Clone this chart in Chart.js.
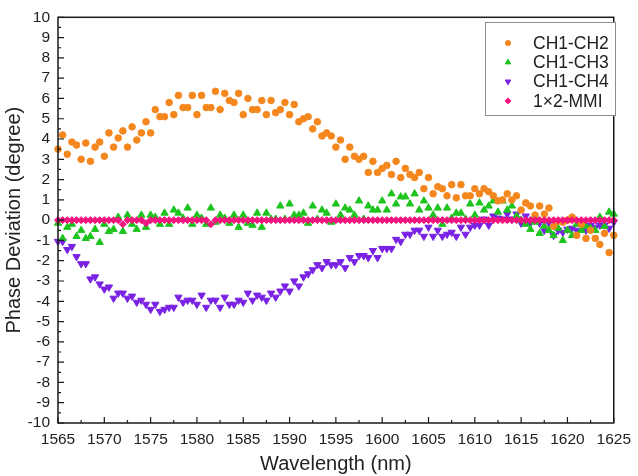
<!DOCTYPE html>
<html>
<head>
<meta charset="utf-8">
<script src="https://cdn.jsdelivr.net/npm/chart.js@4.4.1/dist/chart.umd.min.js"></script>
<style>
    html, body { margin: 0; padding: 0; background: #fff; }
    #wrap { width: 638px; height: 476px; }
</style>
</head>
<body>
<div id="wrap"><canvas id="phaseChart" width="638" height="476"></canvas></div>
<script>
// wavelength samples (nm), 0.5 nm apart
const wavelengths = [
    1565, 1565.5, 1566, 1566.5, 1567, 1567.5, 1568, 1568.5, 1569, 1569.5,
    1570, 1570.5, 1571, 1571.5, 1572, 1572.5, 1573, 1573.5, 1574, 1574.5,
    1575, 1575.5, 1576, 1576.5, 1577, 1577.5, 1578, 1578.5, 1579, 1579.5,
    1580, 1580.5, 1581, 1581.5, 1582, 1582.5, 1583, 1583.5, 1584, 1584.5,
    1585, 1585.5, 1586, 1586.5, 1587, 1587.5, 1588, 1588.5, 1589, 1589.5,
    1590, 1590.5, 1591, 1591.5, 1592, 1592.5, 1593, 1593.5, 1594, 1594.5,
    1595, 1595.5, 1596, 1596.5, 1597, 1597.5, 1598, 1598.5, 1599, 1599.5,
    1600, 1600.5, 1601, 1601.5, 1602, 1602.5, 1603, 1603.5, 1604, 1604.5,
    1605, 1605.5, 1606, 1606.5, 1607, 1607.5, 1608, 1608.5, 1609, 1609.5,
    1610, 1610.5, 1611, 1611.5, 1612, 1612.5, 1613, 1613.5, 1614, 1614.5,
    1615, 1615.5, 1616, 1616.5, 1617, 1617.5, 1618, 1618.5, 1619, 1619.5,
    1620, 1620.5, 1621, 1621.5, 1622, 1622.5, 1623, 1623.5, 1624, 1624.5,
    1625
];

const ch1ch2 = [
    3.5, 4.2, 3.25, 3.85, 3.7, 3.0, 3.8, 2.9, 3.6, 3.85,
    3.15, 4.3, 3.6, 4.05, 4.4, 3.6, 4.6, 3.95, 4.3, 4.85,
    4.3, 5.45, 5.1, 5.1, 5.8, 5.2, 6.15, 5.55, 5.55, 6.15,
    5.2, 6.15, 5.55, 5.55, 6.35, 5.45, 6.25, 5.9, 5.8, 6.25,
    5.2, 6.0, 5.45, 5.45, 5.9, 5.2, 5.9, 5.3, 5.45, 5.8,
    5.2, 5.7, 4.85, 5.0, 5.1, 4.5, 4.85, 4.15, 4.3, 4.15,
    3.6, 3.95, 3.0, 3.6, 3.15, 3.0, 3.15, 2.35, 2.9, 2.35,
    2.55, 2.7, 2.25, 2.9, 2.1, 2.55, 2.25, 2.1, 2.35, 1.55,
    2.1, 1.3, 1.65, 1.55, 1.2, 1.75, 1.1, 1.75, 1.2, 1.2,
    1.55, 1.3, 1.55, 1.4, 1.2, 0.95, 1.0, 1.3, 1.0, 1.2,
    0.5, 0.85, 0.7, 0.25, 0.7, 0.3, 0.6, -0.3, -0.05, -0.1,
    0.0, 0.15, -0.75, -0.2, -0.9, -0.5, -0.9, -1.2, -0.65, -1.6,
    -0.75
];

const ch1ch3 = [
    -0.15, -0.9, -0.35, -0.2, -0.8, -0.5, -0.9, -0.8, -0.45, -1.1,
    -0.2, -0.55, -0.45, 0.15, -0.55, 0.25, -0.2, -0.45, 0.25, -0.35,
    0.25, 0.15, -0.2, 0.35, -0.2, 0.5, 0.35, 0.1, 0.6, -0.2,
    0.25, 0.1, -0.2, 0.6, -0.1, 0.25, 0.1, -0.15, 0.25, -0.35,
    0.25, -0.15, -0.25, 0.35, -0.35, 0.35, 0.05, 0.05, 0.7, 0.05,
    0.8, 0.25, 0.25, 0.35, -0.15, 0.7, 0.05, 0.5, 0.35, -0.1,
    0.8, 0.25, 0.6, 0.5, 0.25, 0.95, 0.05, 0.7, 0.5, 0.5,
    0.95, 0.5, 1.3, 0.8, 1.15, 1.15, 0.8, 1.3, 0.5, 0.95,
    0.6, 0.25, 0.6, -0.2, 0.6, 0.1, 0.35, 0.35, 0.05, 0.8,
    0.25, 0.85, 0.5, 0.7, 0.95, 0.4, 0.95, 0.5, 0.7, 0.2,
    0.0, -0.2, -0.45, -0.1, -0.65, -0.3, -0.5, -0.75, -0.4, -1.0,
    -0.5, -0.75, -0.2, -0.5, -0.3, -0.4, -0.5, 0.15, -0.3, 0.4,
    0.3
];

const ch1ch4 = [
    -1.05, -1.05, -1.45, -1.3, -1.8, -2.15, -2.15, -2.9, -2.8, -3.15,
    -3.4, -3.3, -3.85, -3.6, -3.6, -3.85, -3.75, -4.05, -3.95, -4.15,
    -4.4, -4.15, -4.5, -4.4, -4.3, -4.3, -3.8, -4.05, -3.95, -3.95,
    -4.15, -3.7, -4.3, -3.95, -3.95, -4.3, -3.8, -4.15, -4.15, -3.95,
    -4.05, -3.6, -3.95, -3.7, -3.8, -3.95, -3.6, -3.8, -3.5, -3.25,
    -3.5, -3.0, -3.25, -2.8, -2.65, -2.45, -2.2, -2.35, -2.05, -2.2,
    -2.2, -2.05, -2.35, -1.85, -2.05, -1.75, -1.75, -1.85, -1.5, -1.85,
    -1.4, -1.4, -1.4, -0.95, -1.05, -0.7, -0.7, -0.5, -0.5, -0.8,
    -0.35, -0.8, -0.5, -0.8, -0.7, -0.6, -0.8, -0.35, -0.7, -0.35,
    -0.25, -0.25, 0.05, -0.25, 0.2, 0.1, 0.05, 0.3, 0.05, 0.3,
    -0.15, 0.2, -0.15, 0.05, -0.15, -0.5, -0.15, -0.75, -0.5, -0.6,
    -0.45, -0.4, -0.5, -0.2, -0.5, -0.25, -0.35, -0.25, -0.25, -0.4,
    -0.1
];

const mmi = [
    0, 0, 0, 0, 0, 0, 0, 0, 0, 0,
    0, 0, 0, 0, -0.2, 0, 0, 0, 0, -0.15,
    0, 0, 0, 0, 0, 0, 0, 0, 0, 0,
    0, 0, 0, -0.2, 0, 0, 0, 0, 0, 0,
    0, 0, 0, 0, 0, 0, 0, 0, 0, 0,
    0, 0, 0, 0, 0, 0, 0, 0, 0, 0,
    0, 0, 0, 0, 0, 0, 0, 0, 0, 0,
    0, 0, 0, 0, 0, 0, 0, 0, 0, 0,
    0, 0, 0, 0, 0, 0, 0, 0, 0, 0,
    0, 0, 0, 0, 0, 0, 0, 0, 0, 0,
    0, 0, 0, 0, 0, 0, 0, 0, 0, 0,
    0, 0, 0, 0, 0, 0, 0, 0, 0, 0,
    0
];

const seriesNames = ["CH1-CH2", "CH1-CH3", "CH1-CH4", "1×2-MMI"];
const xTickLabels = [1565, 1570, 1575, 1580, 1585, 1590, 1595, 1600, 1605, 1610, 1615, 1620, 1625];
const yTickLabels = [-10, -9, -8, -7, -6, -5, -4, -3, -2, -1, 0, 1, 2, 3, 4, 5, 6, 7, 8, 9, 10];

const FONT = "'Liberation Sans', Arial, sans-serif";

function toPoints(values) {
    return values.map((v, i) => ({ x: wavelengths[i], y: v }));
}

// draw a marker the same way the chart does
function marker(ctx, style, r, rot, x, y) {
    if (Chart.helpers && Chart.helpers.drawPoint) {
        Chart.helpers.drawPoint(ctx, { pointStyle: style, radius: r, rotation: rot, borderWidth: 1 }, x, y);
    } else {
        ctx.beginPath();
        ctx.arc(x, y, r, 0, Math.PI * 2);
        ctx.fill();
    }
}

// frame, inward ticks (major + minor) and the legend box
const frameAndLegend = {
    id: "frameAndLegend",
    afterDraw(chart) {
        const ctx = chart.ctx;
        const area = chart.chartArea;
        const xs = chart.scales.x;
        const ys = chart.scales.y;
        ctx.save();
        ctx.strokeStyle = "#1a1a1a";
        ctx.lineWidth = 1.5;
        ctx.strokeRect(area.left, area.top, area.right - area.left, area.bottom - area.top);

        ctx.lineWidth = 1.2;
        ctx.beginPath();
        for (let v = 1565; v <= 1625; v += 2.5) {
            const px = xs.getPixelForValue(v);
            const len = (v % 5 === 0) ? 6 : 3;
            ctx.moveTo(px, area.bottom);
            ctx.lineTo(px, area.bottom - len);
        }
        for (let v = -10; v <= 10; v += 0.5) {
            const py = ys.getPixelForValue(v);
            const len = Number.isInteger(v) ? 6 : 3;
            ctx.moveTo(area.left, py);
            ctx.lineTo(area.left + len, py);
        }
        ctx.stroke();

        // legend
        const bx = 485, by = 22, bw = 130, bh = 93;
        ctx.fillStyle = "#fff";
        ctx.fillRect(bx, by, bw, bh);
        ctx.strokeStyle = "#8c8c8c";
        ctx.lineWidth = 1;
        ctx.strokeRect(bx + 0.5, by + 0.5, bw, bh);
        ctx.font = "17.5px " + FONT;
        ctx.textBaseline = "middle";
        chart.data.datasets.forEach((ds, i) => {
            const y = by + 21 + i * 19.3;
            ctx.fillStyle = ds.backgroundColor;
            ctx.strokeStyle = ds.borderColor;
            ctx.lineWidth = 1;
            marker(ctx, ds.pointStyle, ds.legendRadius, ds.pointRotation || 0, bx + 23, y);
            ctx.fillStyle = "#222";
            ctx.fillText(ds.label, bx + 48, y + 1);
        });
        ctx.restore();
    }
};

const ctx = document.getElementById("phaseChart").getContext("2d");
new Chart(ctx, {
    type: "scatter",
    data: {
        datasets: [
            {
                label: seriesNames[0],
                data: toPoints(ch1ch2),
                backgroundColor: "#F5871F",
                borderColor: "#F5871F",
                pointStyle: "circle",
                pointRadius: 3.3,
                legendRadius: 2.6,
                order: 1
            },
            {
                label: seriesNames[1],
                data: toPoints(ch1ch3),
                backgroundColor: "#1EC41E",
                borderColor: "#1EC41E",
                pointStyle: "triangle",
                pointRadius: 4.2,
                legendRadius: 3.2,
                order: 2
            },
            {
                label: seriesNames[2],
                data: toPoints(ch1ch4),
                backgroundColor: "#7A22E4",
                borderColor: "#7A22E4",
                pointStyle: "triangle",
                pointRotation: 180,
                pointRadius: 4.2,
                legendRadius: 3.2,
                order: 3
            },
            {
                label: seriesNames[3],
                data: toPoints(mmi),
                backgroundColor: "#F0147E",
                borderColor: "#F0147E",
                pointStyle: "rectRot",
                pointRadius: 3.5,
                legendRadius: 3,
                order: 0
            }
        ]
    },
    options: {
        responsive: false,
        animation: false,
        clip: false,
        layout: { padding: { top: 17, right: 16, left: 0, bottom: 0 } },
        elements: { point: { borderWidth: 1, hoverRadius: 4 } },
        plugins: {
            legend: { display: false },
            tooltip: { enabled: false }
        },
        scales: {
            x: {
                type: "linear",
                min: 1565,
                max: 1625,
                afterBuildTicks: s => { s.ticks = xTickLabels.map(v => ({ value: v })); },
                afterFit: s => { s.height = 53; },
                grid: { display: false, drawTicks: false },
                border: { display: false },
                ticks: {
                    padding: 7,
                    color: "#222",
                    font: { family: FONT, size: 15.5 },
                    maxRotation: 0,
                    autoSkip: false,
                    callback: v => String(v)
                },
                title: {
                    display: true,
                    text: "Wavelength (nm)",
                    color: "#222",
                    font: { family: FONT, size: 20 },
                    padding: { top: 3, bottom: 0 }
                }
            },
            y: {
                min: -10,
                max: 10,
                afterBuildTicks: s => { s.ticks = yTickLabels.map(v => ({ value: v })); },
                afterFit: s => { s.width = 58; },
                grid: { display: false, drawTicks: false },
                border: { display: false },
                ticks: {
                    padding: 8,
                    color: "#222",
                    font: { family: FONT, size: 15.5 },
                    autoSkip: false,
                    callback: v => String(v)
                },
                title: {
                    display: true,
                    text: "Phase Deviation (degree)",
                    color: "#222",
                    font: { family: FONT, size: 20 },
                    padding: { top: 2, bottom: 0 }
                }
            }
        }
    },
    plugins: [frameAndLegend]
});
</script>
</body>
</html>
